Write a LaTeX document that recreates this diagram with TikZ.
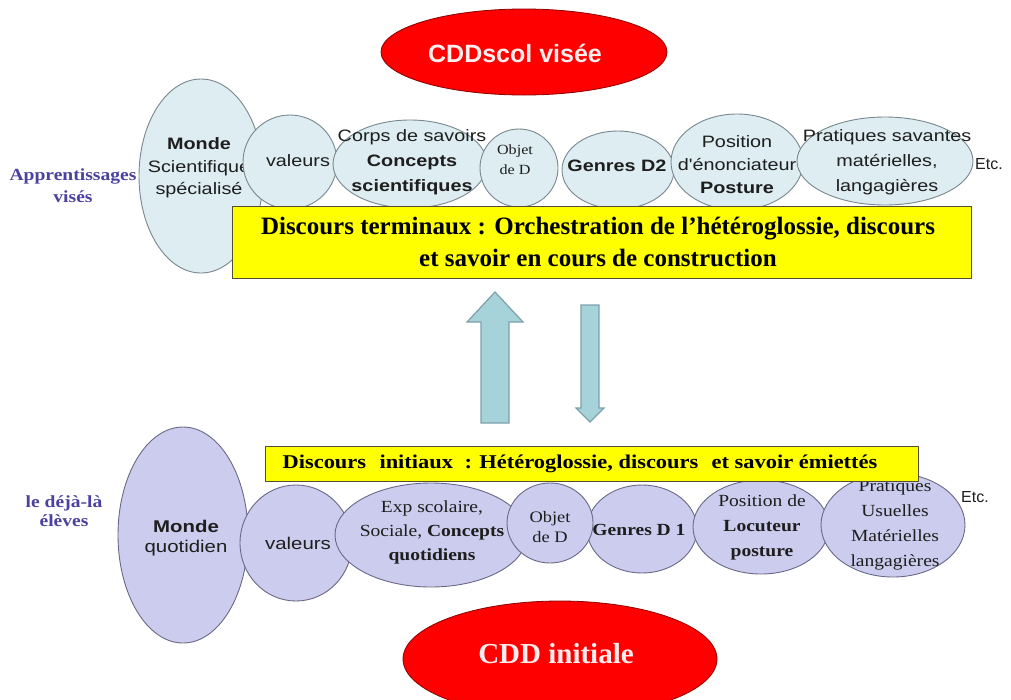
\documentclass[tikz,border=0pt]{standalone}
\usepackage{fontspec}
\setmainfont{Liberation Serif}
\setsansfont{Liberation Sans}
\newfontfamily\ssx{Liberation Sans}[FakeStretch=1.2]
\newfontfamily\srx{Liberation Serif}[FakeStretch=1.15]
\usetikzlibrary{shapes.geometric}
\definecolor{topfill}{RGB}{221,237,241}
\definecolor{topdraw}{RGB}{120,135,142}
\definecolor{botfill}{RGB}{204,204,238}
\definecolor{botdraw}{RGB}{105,105,135}
\definecolor{redfill}{RGB}{255,0,0}
\definecolor{reddraw}{RGB}{140,0,0}
\definecolor{yel}{RGB}{255,255,0}
\definecolor{yeldraw}{RGB}{80,80,50}
\definecolor{arrfill}{RGB}{166,211,218}
\definecolor{arrdraw}{RGB}{125,160,170}
\definecolor{lblcol}{RGB}{75,65,160}
\definecolor{txtcol}{RGB}{30,30,30}
\definecolor{redtxt}{RGB}{255,236,236}
\tikzset{
  ell/.style={ellipse, inner sep=0pt, outer sep=0pt, line width=0.9pt},
  topell/.style={ell, draw=topdraw, fill=topfill},
  botell/.style={ell, draw=botdraw, fill=botfill},
  redell/.style={ell, draw=reddraw, fill=redfill, line width=0.8pt},
  ttxt/.style={align=center, inner sep=0pt, text=txtcol, font=\ssx\fontsize{16.5}{#1}\selectfont},
  ttxt/.default=22,
  btxt/.style={align=center, inner sep=0pt, text=txtcol, font=\srx\fontsize{17}{#1}\selectfont},
  btxt/.default=23,
  bstxt/.style={align=center, inner sep=0pt, text=txtcol, font=\ssx\fontsize{17}{#1}\selectfont},
  bstxt/.default=20,
  ybox/.style={draw=yeldraw, fill=yel, line width=1pt, inner sep=0pt, outer sep=0pt},
  lbl/.style={align=center, inner sep=0pt, text=lblcol, font=\srx\bfseries\fontsize{17}{#1}\selectfont},
  blockarr/.style={draw=arrdraw, fill=arrfill, line width=1.2pt, line join=miter},
}
\begin{document}
\begin{tikzpicture}[x=1pt,y=-1pt]
\useasboundingbox (0,0) rectangle (1011,699);
\clip (0,0) rectangle (1011,699);

% top red ellipse
\node[redell, minimum width=286pt, minimum height=86pt] (topred) at (524,52) {};
\node[inner sep=0pt, text=redtxt, font=\sffamily\bfseries\fontsize{25}{30}\selectfont] (topredt) at (515,53) {CDDscol visée};

% left labels
\node[lbl=22] (lblA) at (73,186) {Apprentissages\\visés};
\node[lbl=19] (lblB) at (64,511) {le déjà-là\\élèves};

% top row ellipses
\node[topell, minimum width=124pt, minimum height=194pt] (tmonde) at (201,176) {};
\node[ttxt=22.5] (tmondet) at (199,168) {{\bfseries Monde}\\Scientifique\\spécialisé};
\node[topell, minimum width=94pt, minimum height=94pt] (tval) at (290,162) {};
\node[ttxt] (tvalt) at (298,161) {valeurs};
\node[topell, minimum width=154pt, minimum height=88pt] (tcorps) at (410,164) {};
\node[ttxt=25] (tcorpst) at (412,162) {Corps de savoirs\\{\bfseries Concepts}\\{\bfseries scientifiques}};
\node[topell, minimum width=112pt, minimum height=78pt] (tgenres) at (618,170) {};
\node[ttxt] (tgenrest) at (617,166) {\bfseries Genres D2};
\node[topell, minimum width=78pt, minimum height=78pt] (tobjet) at (519,168) {};
\node[inner sep=0pt, align=center, text=txtcol, font=\srx\fontsize{14}{20}\selectfont] (tobjett) at (515,160) {Objet\\de D};
\node[topell, minimum width=132pt, minimum height=96pt] (tpos) at (737,162) {};
\node[ttxt=23] (tpost) at (737,165) {Position\\d'énonciateur\\{\bfseries Posture}};
\node[topell, minimum width=176pt, minimum height=88pt] (tprat) at (885,161) {};
\node[ttxt=25] (tpratt) at (887,162) {Pratiques savantes\\matérielles,\\langagières};
\node[anchor=west, inner sep=0pt, text=txtcol, font=\sffamily\fontsize{16}{18}\selectfont] (tetc) at (975,164) {Etc.};

% top yellow box
\node[ybox, minimum width=739pt, minimum height=72pt] (tbox) at (601.5,242) {};
\node[align=center, inner sep=0pt, text=black, font=\rmfamily\bfseries\fontsize{25}{32}\selectfont] (tboxt) at (598,242)
  {Discours terminaux : Orchestration de l’hétéroglossie, discours\\et savoir en cours de construction};

% block arrows
\draw[blockarr] (481,423) -- (481,322) -- (467,322) -- (495,292) -- (523,322) -- (509,322) -- (509,423) -- cycle;
\draw[blockarr] (581,305) -- (599,305) -- (599,408) -- (604,408) -- (590,422) -- (576,408) -- (581,408) -- cycle;

% bottom row ellipses
\node[botell, minimum width=130pt, minimum height=216pt] (bmonde) at (183,535) {};
\node[bstxt] (bmondet) at (186,538) {{\bfseries Monde}\\quotidien};
\node[botell, minimum width=112pt, minimum height=116pt] (bval) at (296,543) {};
\node[bstxt] (bvalt) at (298,543) {valeurs};
\node[botell, minimum width=192pt, minimum height=104pt] (bexp) at (431,535) {};
\node[btxt=24] (bexpt) at (432,532) {Exp scolaire,\\Sociale, {\bfseries Concepts}\\{\bfseries quotidiens}};
\node[botell, minimum width=110pt, minimum height=88pt] (bgenres) at (642,529) {};
\node[btxt] (bgenrest) at (639,530) {\bfseries Genres D 1};
\node[botell, minimum width=86pt, minimum height=80pt] (bobjet) at (550,523) {};
\node[inner sep=0pt, align=center, text=txtcol, font=\srx\fontsize{16}{20}\selectfont] (bobjett) at (550,527) {Objet\\de D};
\node[botell, minimum width=136pt, minimum height=94pt] (bpos) at (761,527) {};
\node[btxt=25] (bpost) at (762,527) {Position de\\{\bfseries Locuteur}\\{\bfseries posture}};
\node[botell, minimum width=144pt, minimum height=104pt] (bprat) at (893,525) {};
\node[btxt=25] (bpratt) at (895,525) {Pratiques\\Usuelles\\Matérielles\\langagières};
\node[anchor=west, inner sep=0pt, text=txtcol, font=\sffamily\fontsize{16}{18}\selectfont] (betc) at (961,497) {Etc.};

% bottom yellow box
\node[ybox, minimum width=653pt, minimum height=35pt] (bbox) at (591.5,463.5) {};
\node[inner sep=0pt, text=black, font=\srx\bfseries\fontsize{19.5}{22}\selectfont] (bboxt) at (580,464)
  {Discours\hspace{0.4em} initiaux\hspace{0.3em} : Hétéroglossie, discours\hspace{0.4em} et savoir émiettés};

% bottom red ellipse
\node[redell, minimum width=314pt, minimum height=116pt] (botred) at (560,659) {};
\node[inner sep=0pt, text=redtxt, font=\rmfamily\bfseries\fontsize{29}{32}\selectfont] (botredt) at (556,654) {CDD initiale};
\end{tikzpicture}
\end{document}
